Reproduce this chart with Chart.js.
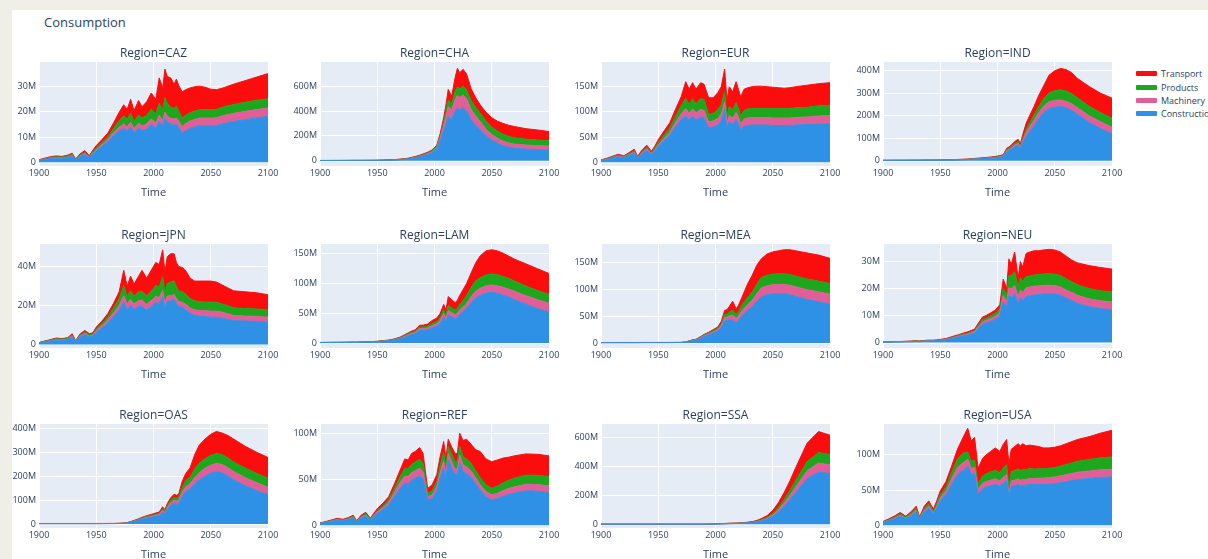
<!DOCTYPE html>
<html>
<head>
<meta charset="utf-8">
<script src="https://cdn.jsdelivr.net/npm/chart.js@4.4.1/dist/chart.umd.min.js"></script>
<style>
  html, body { margin: 0; padding: 0; width: 1208px; height: 559px; overflow: hidden; background: #f0efe7; font-family: "Open Sans", sans-serif; }
  #sheet { position: absolute; left: 12px; top: 10px; right: 0; bottom: 0; background: #ffffff; }
  #title { position: absolute; left: 44px; top: 13px; font-size: 13px; color: #2a3f5f; }
  .panel { position: absolute; }
  #legend { position: absolute; left: 1136px; top: 67px; font-size: 9px; color: #2a3f5f; white-space: nowrap; }
  .item { height: 13.4px; display: flex; align-items: center; }
  .sw { display: inline-block; width: 21px; height: 5px; border-radius: 1px; margin-right: 4px; }
</style>
</head>
<body>
<div id="sheet"></div>
<div id="title">Consumption</div>
<div id="legend"></div>
<script>
// Sample years shared by every region (values in millions)
const years = [1900,1905,1910,1915,1920,1925,1929,1932,1936,1940,1944,1947,1950,1955,1960,1965,1970,1974,1977,1980,1983,1987,1990,1994,1998,2002,2005,2008,2010,2012,2015,2018,2020,2022,2025,2028,2032,2036,2040,2045,2050,2055,2060,2065,2070,2080,2090,2100];
const xTicks = [1900, 1950, 2000, 2050, 2100];

const regions = ['CAZ','CHA','EUR','IND','JPN','LAM','MEA','NEU','OAS','REF','SSA','USA'];
const sectors = ['Construction','Machinery','Products','Transport'];
const sectorColors = ['#2E91E5','#E15F99','#1CA71C','#FB0D0D'];

const CAZ_Construction = [0.7,1.1,1.5,1.7,1.6,1.9,2.5,0.9,2.3,3.1,1.8,3.3,4.6,6.3,8.0,10.5,12.3,13.4,12.4,14.0,11.8,13.6,12.6,13.2,15.0,13.6,16.2,14.4,17.5,16.0,15.0,14.8,15.0,13.8,11.5,12.5,13.5,14.0,14.5,14.5,14.4,14.6,15.2,15.7,16.2,16.9,17.6,18.2];
const CAZ_Machinery = [0.1,0.1,0.2,0.2,0.2,0.2,0.3,0.1,0.3,0.4,0.2,0.4,0.5,0.7,0.9,1.2,1.6,1.8,1.6,1.9,1.6,1.9,1.8,2.0,2.2,2.0,2.4,2.2,2.4,2.3,2.4,2.4,2.6,2.6,2.7,2.8,2.9,3.0,3.0,3.1,3.1,3.1,3.2,3.2,3.2,3.3,3.3,3.3];
const CAZ_Products = [0.1,0.1,0.2,0.2,0.2,0.3,0.3,0.1,0.3,0.4,0.2,0.4,0.6,0.8,1.1,1.6,2.6,3.2,3.0,3.5,2.8,3.3,3.2,3.4,3.8,3.6,4.8,4.2,5.8,5.0,4.4,4.2,4.6,4.0,3.4,3.3,3.3,3.3,3.3,3.3,3.3,3.3,3.4,3.5,3.5,3.6,3.7,3.7];
const CAZ_Transport = [0.1,0.3,0.3,0.4,0.3,0.4,0.5,0.2,0.5,0.7,0.4,0.7,0.9,1.2,1.5,2.2,3.3,4.4,4.0,5.6,4.3,5.7,4.4,5.4,6.5,5.8,10.1,8.7,11.3,10.7,11.7,9.6,10.8,10.1,10.4,10.2,9.8,9.7,9.4,8.9,8.2,7.8,7.6,7.8,8.1,8.6,9.2,10.0];

const CHA_Construction = [1.0,1.0,1.2,1.2,1.3,1.4,1.5,1.5,1.6,1.7,1.8,1.9,2.0,2.8,4.0,5.0,8.0,10,13,18,22,30,38,50,65,95,160,240,290,355,330,400,425,410,425,400,330,285,247,200,167,140,120,108,100,93,89,86];
const CHA_Machinery = [0.2,0.2,0.2,0.2,0.2,0.2,0.3,0.3,0.3,0.3,0.3,0.3,0.4,0.5,0.7,0.9,1.2,1.6,2,2.5,3,4,5,6,8,12,25,45,65,80,80,95,100,100,105,100,85,75,68,55,45,40,37,35,34,33,32,32];
const CHA_Products = [0.2,0.2,0.2,0.2,0.2,0.3,0.3,0.3,0.3,0.3,0.3,0.3,0.4,0.5,0.7,0.9,1.2,1.6,2,2.5,3,4,5,6,7,10,17,30,45,55,50,65,70,70,72,70,70,68,67,65,60,58,55,52,50,47,45,43];
const CHA_Transport = [0.6,0.6,0.6,0.7,0.7,0.8,0.8,0.8,0.9,0.9,1.0,1.0,1.2,1.4,1.8,2.2,2.6,3,3.5,4,5,6,6,6,7,8,18,30,50,85,60,110,150,130,135,130,95,80,67,70,75,80,88,90,91,85,82,74];

const EUR_Construction = [3.3,5.5,8.3,11.2,9.1,14,18.2,8.4,17.5,23.8,15.4,22.4,31,42,53,70,84,92,84,91,84,90,88,68,70,74,82,105,66,80,75,85,77,64,72,73,74,74,74,74,73,73,73,73,74,75,76,77];
const EUR_Machinery = [0.4,0.7,1.0,1.3,1.1,1.6,2.1,1.0,2.0,2.7,1.8,2.6,3.6,5,6.5,9,12,15,13,15,14,15,15,12,12,13,14,15,12,13,13,14,13,12,14,15,15,15,15,15,15,15,15,15,15,15,16,16];
const EUR_Products = [0.5,0.8,1.2,1.6,1.3,2.0,2.6,1.2,2.5,3.4,2.2,3.2,4.5,6.5,8.5,12,16,20,18,20,18,21,22,15,15,17,18,20,15,17,16,19,17,16,17,18,18,18,18,18,19,19,19,19,19,19,20,20];
const EUR_Transport = [0.6,1.0,1.5,1.9,1.5,2.4,3.1,1.4,3.0,4.1,2.6,3.8,5.9,8.5,10,14,18,33,30,32,29,32,30,33,31,34,36,45,29,40,36,42,38,38,42,42,43,44,44,43,42,41,40,41,42,44,44,45];

const IND_Construction = [1.2,1.2,1.3,1.3,1.4,1.5,1.6,1.6,1.7,1.8,1.9,2.0,2.2,2.6,3.0,3.5,4.2,4.8,5.5,6.5,7.5,8.5,9.5,11,12.5,15,18,40,44,50,62,68,54,80,107,128,155,185,211,232,238,241,235,222,205,170,143,119];
const IND_Machinery = [0.2,0.2,0.2,0.2,0.2,0.2,0.2,0.2,0.2,0.3,0.3,0.3,0.3,0.4,0.4,0.5,0.6,0.7,0.8,0.9,1.0,1.2,1.3,1.5,1.8,2.2,2.6,5,5.5,6,7.5,9,7,11,18,22,26,28,30,30,30,29,29,30,30,30,30,30];
const IND_Products = [0.2,0.2,0.2,0.2,0.2,0.2,0.2,0.2,0.3,0.3,0.3,0.3,0.3,0.4,0.4,0.5,0.6,0.7,0.8,0.9,1.0,1.2,1.3,1.5,1.8,2.2,2.6,5,5.5,6,7,8.5,6.5,9,12,18,23,27,32,40,43,45,46,45,44,42,41,40];
const IND_Transport = [0.4,0.4,0.4,0.4,0.4,0.5,0.5,0.5,0.5,0.6,0.6,0.6,0.7,0.8,0.9,1.0,1.1,1.3,1.4,1.6,1.8,2.0,2.2,2.5,2.8,3.2,3.4,5,6,7,8.5,9.5,7.5,15,29,32,38,50,57,78,89,95,95,93,86,88,86,89];

const JPN_Construction = [0.7,1.3,1.8,2.3,2.1,2.5,3.9,1.4,3.9,5.0,3.9,4.2,6.2,8.4,10.9,14.2,17.5,21.7,18,20,18,19.5,19.5,17.5,19.5,21.5,21,24.5,18.5,22,22.5,23,21,19.5,19,18,16,15,14.5,14.3,14,14,13.5,12.8,12.2,12,11.8,11.5];
const JPN_Machinery = [0.1,0.2,0.2,0.3,0.3,0.3,0.5,0.2,0.5,0.7,0.5,0.6,0.9,1.2,1.6,2.0,2.5,3.3,2.7,3,2.8,3,3.3,3,3,3.2,3,3.2,2.6,2.8,2.5,2.6,2.5,2.5,2.6,2.6,2.7,2.8,2.9,3.0,3.1,3.1,3,2.9,2.7,2.6,2.6,2.5];
const JPN_Products = [0.1,0.2,0.2,0.3,0.3,0.4,0.5,0.2,0.5,0.7,0.5,0.6,0.9,1.2,1.6,2.4,3.5,5.2,4,4.5,4,4.5,4.5,4.3,4.8,5.5,5.5,7,5.5,6.5,7,7,6,5.5,5.5,5.2,4.8,4.6,4.5,4.5,4.6,4.5,4.3,4.1,3.9,3.8,3.8,3.8];
const JPN_Transport = [0.1,0.1,0.3,0.4,0.3,0.3,0.6,0.2,0.6,0.8,0.6,0.6,0.9,1.2,1.6,2.4,3.5,7.8,5.3,7.5,6.2,8,10.7,9.2,10.7,11.8,11.5,13.8,10.4,13.7,14.5,13.9,12.5,12.5,12.4,12.2,10.5,10.1,10.6,10.7,10.8,10.4,9.7,9.2,8.7,8.6,8.3,7.7];

const LAM_Construction = [0.7,0.7,0.8,0.8,0.9,1.0,1.1,1.0,1.2,1.4,1.5,1.8,2.0,2.7,3.5,5.0,7.0,9.8,12,14,15.5,21,21,22,25.5,28,33,43,36,47,44,41,43,48,53,58,68,76,80,84,85.4,83.5,80.5,77,73,65,58,51.7];
const LAM_Machinery = [0.1,0.1,0.1,0.1,0.1,0.1,0.1,0.1,0.2,0.2,0.2,0.2,0.3,0.4,0.5,0.7,1.0,1.4,1.7,2,2.2,3,3,3.2,3.7,4.2,5,6.5,5.5,7.5,7,6.5,7,7.5,8,8.5,10,11.5,12.3,12.4,12.4,12.8,13.2,13.6,14,14.5,14.9,15.2];
const LAM_Products = [0.1,0.1,0.1,0.1,0.1,0.1,0.1,0.1,0.2,0.2,0.2,0.2,0.3,0.4,0.5,0.6,0.9,1.3,1.6,2,2.1,3,3,3.2,3.8,4.3,5,6.5,5.5,8.5,8,7.5,8,9,10.5,13,15.5,17,17.5,18.2,18.5,18.5,18.2,17.8,17.2,16.2,15.3,14.6];
const LAM_Transport = [0.1,0.2,0.2,0.2,0.2,0.2,0.3,0.3,0.3,0.3,0.3,0.4,0.4,0.5,0.5,0.7,1.1,1.5,1.7,2,2.2,3,3,3.6,5,5.5,7,9,8,15,14,13,14,15.5,18.5,20.5,24.5,30.5,37.2,40.4,40.7,40.2,39.1,37.6,36.8,37.3,36.8,35.5];

const MEA_Construction = [0.6,0.6,0.6,0.6,0.6,0.6,0.6,0.6,0.7,0.7,0.7,0.7,0.7,0.7,0.7,0.8,0.8,1.5,3.0,4.4,5.2,9,12,15,18.5,22,28,42,41,44,42,38,42,48,55,61,68,78,86,90,91.5,92,92,90,87,81,77,72.2];
const MEA_Machinery = [0.1,0.1,0.1,0.1,0.1,0.1,0.1,0.1,0.1,0.1,0.1,0.1,0.1,0.1,0.1,0.1,0.1,0.2,0.4,0.6,0.7,1.2,1.6,2,2.5,3,4,6,6.5,7,9.7,7.5,8,9,9.5,10.3,11.5,14,16.7,17,17.2,17.3,17.4,17.7,18,18.3,18.5,18.7];
const MEA_Products = [0.1,0.1,0.1,0.1,0.1,0.1,0.1,0.1,0.1,0.1,0.1,0.1,0.1,0.1,0.1,0.1,0.1,0.1,0.3,0.5,0.6,1,1.3,1.7,2.2,2.5,3.5,5.5,6,7,9.3,7.5,8,9.5,12,13.5,15,17.5,19.3,19.6,19.8,20,20,20,20,20,20,19.9];
const MEA_Transport = [0.2,0.2,0.2,0.2,0.2,0.2,0.2,0.2,0.2,0.2,0.2,0.2,0.2,0.2,0.2,0.2,0.2,0.2,0.3,0.5,0.5,0.8,1.1,1.3,1.8,2.5,4.5,7.5,8.5,10,17,11,12,13.5,18.5,25.2,31.5,35.5,35,39.4,41.5,42.7,44.6,46.3,47,48.7,48.5,47.2];

const NEU_Construction = [0.2,0.2,0.3,0.3,0.3,0.3,0.4,0.3,0.5,0.6,0.6,0.7,0.8,1.0,1.5,2.0,2.5,2.8,3.2,3.6,5.0,6.8,7.2,7.8,8.5,9.8,15,13,17.5,16.8,18,14.5,16.5,15.5,17,17.3,17.6,17.8,18,18.1,18,17.5,16.5,15.5,14.5,13.3,12.6,12.1];
const NEU_Machinery = [0.0,0.0,0.0,0.0,0.1,0.1,0.1,0.1,0.1,0.1,0.1,0.1,0.1,0.2,0.2,0.3,0.3,0.4,0.4,0.5,0.7,0.9,1.0,1.1,1.2,1.4,2.5,2.2,2.8,3.1,3.2,2.5,3,3,3.3,3.3,3.3,3.2,3.2,3.1,3.1,3.1,3.0,3.0,3.0,2.9,2.9,2.9];
const NEU_Products = [0.0,0.0,0.0,0.0,0.0,0.1,0.1,0.1,0.1,0.1,0.1,0.1,0.1,0.1,0.2,0.2,0.3,0.3,0.4,0.4,0.6,0.8,0.8,1.0,1.1,1.3,2.5,2.3,4.5,4.9,5,3.5,4.5,4.2,4.2,4.1,4.1,4.2,4.2,4.3,4.3,4.2,4.1,4.0,3.9,3.8,3.7,3.7];
const NEU_Transport = [0.1,0.1,0.1,0.1,0.1,0.1,0.1,0.1,0.1,0.1,0.1,0.1,0.2,0.2,0.3,0.3,0.4,0.5,0.5,0.5,0.7,1.0,1.0,1.1,1.2,1.5,3.5,2.5,6.2,4.2,7.3,3.5,6,5.3,8.5,8.8,9,8.8,8.9,9,8.9,8.7,8.4,8.0,8.1,8.5,8.6,8.5];

const OAS_Construction = [1.4,1.4,1.4,1.4,1.4,1.4,1.4,1.4,1.4,1.4,1.4,1.4,1.5,1.5,1.6,1.7,2.0,2.8,4.2,7,10.5,15.5,20,25,28,32,35,50,42,60,78,86,82,85,115,135,146,168,184,200,212,219,214,200,185,160,140,121];
const OAS_Machinery = [0.2,0.2,0.2,0.2,0.2,0.2,0.2,0.2,0.2,0.2,0.2,0.2,0.2,0.2,0.2,0.2,0.3,0.4,0.6,1,1.5,2.2,2.8,3.5,4,4.5,5,7,6,8.5,11,13,14,14,18,20,22,27,31,33,34,35,35,35,34,34,33,32];
const OAS_Products = [0.2,0.2,0.2,0.2,0.2,0.2,0.2,0.2,0.2,0.2,0.2,0.2,0.2,0.2,0.2,0.2,0.3,0.4,0.6,1,1.5,2.2,2.8,3.5,4,4.5,5,7,6,8,10,12,12,13,18,25,29,35,39,40,41,41,41,41,40,40,39,38];
const OAS_Transport = [0.4,0.4,0.4,0.4,0.4,0.4,0.4,0.4,0.4,0.4,0.4,0.4,0.4,0.4,0.4,0.4,0.4,0.4,0.6,1,1.5,2.1,2.4,3,4,5,5,8,6,8.5,11,13,12,13,26,30,38,60,76,82,88,92,90,94,96,91,88,87];

const REF_Construction = [1.8,2.9,4.2,5.4,4.7,6.1,7.8,3.6,7.9,10,5.4,9.3,12.8,17,22,31,40,46,45,49,51,53.6,50,27.5,29,37,51,62,50,71,62,55,55,68,58,56,52,45,38,31,27.5,29,31.5,33.5,35,37.5,37,35.5];
const REF_Machinery = [0.2,0.3,0.5,0.6,0.5,0.7,0.9,0.4,0.9,1.1,0.6,1.1,1.5,2,2.8,4.5,6.5,7.5,8,8,8.2,8.4,8,3.5,4,5,6.5,8,6,7,7,6,6.5,8,7.5,7.5,7,6.5,6,5.6,5.5,5.8,6.2,6.5,6.8,7.1,7.2,7.3];
const REF_Products = [0.2,0.3,0.5,0.6,0.5,0.7,0.9,0.4,0.9,1.1,0.6,1.1,1.5,2,2.8,4.5,6.5,8,8.5,9,9.3,9.7,9,3.8,4.5,5.5,7.5,9,7,7.5,8,8,8.5,10,9,8.5,8,7.5,7.5,7.2,7.2,7.8,8.5,9,9.4,9.8,10,10.1];
const REF_Transport = [0.3,0.5,0.6,0.9,0.8,1.0,1.3,0.6,1.3,1.8,1.0,1.5,2.2,3,3.4,5,7,10.5,9.5,12,11.5,12.7,11,5.2,6.5,7.5,10,12,10,8,8,9,8,14,17.5,21.5,21,23,28.5,28.2,28.8,28.4,26.8,25,24.3,23.1,22.8,22.5];

const SSA_Construction = [1.2,1.2,1.2,1.2,1.2,1.2,1.2,1.2,1.2,1.2,1.2,1.2,1.2,1.2,1.2,1.2,1.2,1.2,1.2,1.2,1.2,1.2,1.2,1.5,2,3,3.5,4,4.5,5,5.5,6,6.5,7,8.3,9.5,12,16.5,24,35,55,86,125,170,220,315,360,350];
const SSA_Machinery = [0.2,0.2,0.2,0.2,0.2,0.2,0.2,0.2,0.2,0.2,0.2,0.2,0.2,0.2,0.2,0.2,0.2,0.2,0.2,0.2,0.2,0.2,0.2,0.2,0.3,0.4,0.5,0.6,0.6,0.7,0.8,0.9,1,1.1,1.3,1.5,1.9,2.7,4,6,9.5,15,22,30,38,55,63,60];
const SSA_Products = [0.2,0.2,0.2,0.2,0.2,0.2,0.2,0.2,0.2,0.2,0.2,0.2,0.2,0.2,0.2,0.2,0.2,0.2,0.2,0.2,0.2,0.2,0.2,0.2,0.3,0.4,0.5,0.6,0.7,0.8,0.9,0.9,1,1.2,1.4,1.6,2.1,3,4.5,7,11,17,25,34,44,62,72,70];
const SSA_Transport = [0.4,0.4,0.4,0.4,0.4,0.4,0.4,0.4,0.4,0.4,0.4,0.4,0.4,0.4,0.4,0.4,0.4,0.4,0.4,0.4,0.4,0.4,0.4,0.5,0.6,0.8,1.0,1.2,1.2,1.5,1.6,1.4,1.5,1.7,2,2.4,3,4.8,7.5,12,19.5,32,48,66,88,128,145,135];

const USA_Construction = [3.6,6.3,9.1,12.6,9.0,14,18.9,8.3,18.9,24.2,15.9,24.5,34.6,43,58,72,78,84,72,73,44,52,54,56,58,56,60,64,39,55,56,58,56,57,57,58,58,58,58,58.5,59.2,60.5,62,63.5,65,66.5,68,68.7];
const USA_Machinery = [0.4,0.7,1.0,1.4,1.0,1.6,2.1,0.9,2.1,2.8,1.8,2.8,4.5,5.5,8,10,11,10,9,9,7,8,8,8,8,7,8,8,5,8,8,8,8,8,8,8.5,8.5,8.8,9,9.2,9.5,9.7,10,10.2,10.4,10.6,10.8,10.9];
const USA_Products = [0.5,0.9,1.3,1.8,1.3,2,2.7,1.2,2.7,3.5,2.3,3.5,4.5,6,9,12,14,10,10,10,8,10,11,12,12,12,13,14,9.5,13,14,14,14,14,14,14,13.5,13.4,13.3,13.3,13.3,13.8,14.5,15,15.6,16.4,17,17.6];
const USA_Transport = [0.7,1.1,1.6,2.2,1.5,2.4,3.3,1.4,3.3,4.1,2.7,4.2,5.2,7.5,9.4,14,22,34,29,33,22,25,27,29,32,30,34,36,33.2,32,34,36,35,37,34,33.5,33,31.8,29.7,29,29,29,29.5,30.3,31,32.5,35.2,37.8];

// y-axis tick values per region, in millions
const yTickValues = {
  CAZ: [0, 10, 20, 30], CHA: [0, 200, 400, 600], EUR: [0, 50, 100, 150], IND: [0, 100, 200, 300, 400],
  JPN: [0, 20, 40], LAM: [0, 50, 100, 150], MEA: [0, 50, 100, 150], NEU: [0, 10, 20, 30],
  OAS: [0, 100, 200, 300, 400], REF: [0, 50, 100], SSA: [0, 200, 400, 600], USA: [0, 50, 100]
};
// y-axis extent [min, max] per region, in millions
const yAxisRange = {
  CAZ: [-1.5, 39.8], CHA: [-43, 796], EUR: [-7.3, 199], IND: [-23.6, 438.7],
  JPN: [-1.8, 51.5], LAM: [-8.4, 166.6], MEA: [-9.3, 184.7], NEU: [-2, 36.5],
  OAS: [-16.7, 418], REF: [-3, 110], SSA: [-25, 692], USA: [-4, 144]
};

const seriesByRegion = {
  CAZ: [CAZ_Construction, CAZ_Machinery, CAZ_Products, CAZ_Transport],
  CHA: [CHA_Construction, CHA_Machinery, CHA_Products, CHA_Transport],
  EUR: [EUR_Construction, EUR_Machinery, EUR_Products, EUR_Transport],
  IND: [IND_Construction, IND_Machinery, IND_Products, IND_Transport],
  JPN: [JPN_Construction, JPN_Machinery, JPN_Products, JPN_Transport],
  LAM: [LAM_Construction, LAM_Machinery, LAM_Products, LAM_Transport],
  MEA: [MEA_Construction, MEA_Machinery, MEA_Products, MEA_Transport],
  NEU: [NEU_Construction, NEU_Machinery, NEU_Products, NEU_Transport],
  OAS: [OAS_Construction, OAS_Machinery, OAS_Products, OAS_Transport],
  REF: [REF_Construction, REF_Machinery, REF_Products, REF_Transport],
  SSA: [SSA_Construction, SSA_Machinery, SSA_Products, SSA_Transport],
  USA: [USA_Construction, USA_Machinery, USA_Products, USA_Transport]
};

// Grid placement of the plot areas
const colLeft = [39, 320, 601, 883];
const rowTop = [62, 244, 424];
const plotW = 229, plotH = 104;
const axisW = 45, titleH = 22, xAxisH = 34, padRight = 14;

const textColor = '#2a3f5f';
const fontFamily = '"Open Sans", sans-serif';

// Fills the plotting area with the light blue-grey backdrop
const plotBackdrop = {
  id: 'plotBackdrop',
  beforeDraw(chart) {
    const { ctx, chartArea: a } = chart;
    ctx.save();
    ctx.fillStyle = '#E5ECF6';
    ctx.fillRect(a.left, a.top, a.right - a.left, a.bottom - a.top);
    ctx.restore();
  }
};

regions.forEach((region, idx) => {
  const col = idx % 4, row = Math.floor(idx / 4);
  const canvas = document.createElement('canvas');
  const w = axisW + plotW + padRight, h = titleH + plotH + xAxisH;
  canvas.width = w; canvas.height = h;
  canvas.className = 'panel';
  canvas.style.left = (colLeft[col] - axisW) + 'px';
  canvas.style.top = (rowTop[row] - titleH) + 'px';
  canvas.style.width = w + 'px';
  canvas.style.height = h + 'px';
  document.body.appendChild(canvas);

  const [yMin, yMax] = yAxisRange[region];
  const yTicks = yTickValues[region];
  const datasets = sectors.map((name, k) => ({
    label: name,
    data: years.map((yr, i) => ({ x: yr, y: seriesByRegion[region][k][i] })),
    borderColor: sectorColors[k],
    backgroundColor: sectorColors[k],
    borderWidth: 1,
    pointRadius: 0,
    tension: 0,
    fill: k === 0 ? 'origin' : '-1'
  }));

  new Chart(canvas, {
    type: 'line',
    data: { datasets },
    options: {
      responsive: false,
      animation: false,
      layout: { padding: { left: 0, right: padRight, top: 0, bottom: 0 } },
      plugins: {
        legend: { display: false },
        tooltip: { enabled: false },
        title: {
          display: true, fullSize: false, text: 'Region=' + region, color: textColor,
          font: { family: fontFamily, size: 12, weight: 'normal' },
          padding: { top: 6.5, bottom: 1.1 }
        }
      },
      scales: {
        x: {
          type: 'linear', min: 1900, max: 2100,
          afterBuildTicks: s => { s.ticks = xTicks.map(v => ({ value: v })); },
          ticks: { padding: 2, maxRotation: 0, autoSkip: false, color: textColor,
                   font: { family: fontFamily, size: 9 }, callback: v => String(v) },
          grid: { color: '#ffffff', drawTicks: false },
          border: { display: false },
          title: { display: true, text: 'Time', color: textColor,
                   font: { family: fontFamily, size: 11 }, padding: { top: 0, bottom: 0.4 } },
          afterFit: s => { s.height = xAxisH; }
        },
        y: {
          stacked: true, min: yMin, max: yMax,
          afterBuildTicks: s => { s.ticks = yTicks.map(v => ({ value: v })); },
          ticks: { padding: 3, autoSkip: false, color: textColor,
                   font: { family: fontFamily, size: 9 }, callback: v => (v === 0 ? '0' : v + 'M') },
          grid: { color: '#ffffff', drawTicks: false, lineWidth: c => (c.tick && c.tick.value === 0 ? 2 : 1) },
          border: { display: false },
          afterFit: s => { s.width = axisW; }
        }
      }
    },
    plugins: [plotBackdrop]
  });
});

// Legend, listed top-down from the uppermost stacked layer
const legend = document.getElementById('legend');
for (let k = sectors.length - 1; k >= 0; k--) {
  const item = document.createElement('div');
  item.className = 'item';
  const sw = document.createElement('span');
  sw.className = 'sw';
  sw.style.background = sectorColors[k];
  const label = document.createElement('span');
  label.textContent = sectors[k];
  item.appendChild(sw);
  item.appendChild(label);
  legend.appendChild(item);
}
</script>
</body>
</html>
